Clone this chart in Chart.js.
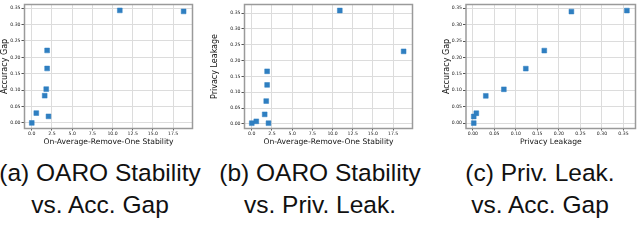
<!DOCTYPE html>
<html>
<head>
<meta charset="utf-8">
<script src="https://cdn.jsdelivr.net/npm/chart.js@4"></script>
<style>
  body { margin: 0; background: #fff; width: 640px; height: 246px; overflow: hidden; position: relative; }
  canvas { position: absolute; top: 0; }
  .cap { position: absolute; top: 156.5px; width: 220px; text-align: center;
         font-family: "Liberation Sans", Arial, sans-serif; font-size: 24.5px; line-height: 32px; color: #111; }
</style>
</head>
<body>
<canvas id="chartA" style="left:0px" width="197" height="147"></canvas>
<canvas id="chartB" style="left:210px" width="207" height="147"></canvas>
<canvas id="chartC" style="left:442px" width="198" height="147"></canvas>
<div class="cap" style="left:-10px">(a) OARO Stability<br>vs. Acc. Gap</div>
<div class="cap" style="left:210px">(b) OARO Stability<br>vs. Priv. Leak.</div>
<div class="cap" style="left:430px">(c) Priv. Leak.<br>vs. Acc. Gap</div>
<script>
// one value per trained model
var stability = [0.0, 0.56, 1.6, 1.79, 1.9, 1.9, 2.07, 10.9, 18.8];
var accGap = [0.0, 0.03, 0.083, 0.103, 0.166, 0.221, 0.02, 0.343, 0.34];
var privLeak = [0.002, 0.008, 0.03, 0.072, 0.123, 0.166, 0.002, 0.358, 0.229];

var stabTicks = [0, 2.5, 5, 7.5, 10, 12.5, 15, 17.5];
var gapTicks = [0, 0.05, 0.1, 0.15, 0.2, 0.25, 0.3, 0.35];
var leakTicks = [0, 0.05, 0.1, 0.15, 0.2, 0.25, 0.3, 0.35];

var frame = {
  id: "frame",
  afterDraw: function (chart) {
    var a = chart.chartArea, ctx = chart.ctx;
    ctx.save();
    ctx.strokeStyle = "#9a9a9a";
    ctx.lineWidth = 1.5;
    ctx.strokeRect(a.left, a.top, a.right - a.left, a.bottom - a.top);
    ctx.restore();
  },
};

function pts(xs, ys) {
  return xs.map(function (x, i) { return { x: x, y: ys[i] }; });
}

function axis(title, ticks, digits, min, max, size, horizontal) {
  return {
    type: "linear",
    min: min,
    max: max,
    afterBuildTicks: function (s) { s.ticks = ticks.map(function (v) { return { value: v }; }); },
    afterFit: function (s) { if (horizontal) s.height = size; else s.width = size; },
    border: { display: false },
    grid: { color: "#dcdcdc", lineWidth: 1, tickColor: "#555", tickLength: horizontal ? 2 : 3 },
    ticks: {
      font: { family: "DejaVu Sans", size: 4.6 },
      color: "#222",
      padding: horizontal ? 0.5 : 1,
      maxRotation: 0,
      autoSkip: false,
      callback: function (v) { return v.toFixed(digits); },
    },
    title: {
      display: true,
      text: title,
      font: { family: "DejaVu Sans", size: horizontal ? 7.6 : 8 },
      color: "#111",
      padding: 0,
    },
  };
}

function scatter(id, xs, ys, xAxis, yAxis) {
  new Chart(document.getElementById(id), {
    type: "scatter",
    data: {
      datasets: [
        {
          data: pts(xs, ys),
          pointStyle: "rect",
          pointRadius: 3.4,
          backgroundColor: "#2f7fc1",
          borderColor: "#2f7fc1",
          borderWidth: 0.5,
        },
      ],
    },
    options: {
      responsive: false,
      animation: false,
      layout: { padding: { top: 0.5, left: 0, right: 0, bottom: 0 } },
      plugins: { legend: { display: false }, tooltip: { enabled: false } },
      scales: { x: xAxis, y: yAxis },
    },
    plugins: [frame],
  });
}

scatter("chartA", stability, accGap,
  axis("On-Average-Remove-One Stability", stabTicks, 1, -0.9, 19.9, 18.5, true),
  axis("Accuracy Gap", gapTicks, 2, -0.017, 0.361, 24.5, false));

scatter("chartB", stability, privLeak,
  axis("On-Average-Remove-One Stability", stabTicks, 1, -0.9, 19.9, 18.5, true),
  axis("Privacy Leakage", leakTicks, 2, -0.0147, 0.377, 34.5, false));

scatter("chartC", privLeak, accGap,
  axis("Privacy Leakage", leakTicks, 2, -0.016, 0.378, 18.5, true),
  axis("Accuracy Gap", gapTicks, 2, -0.0165, 0.3615, 24, false));
</script>
</body>
</html>
